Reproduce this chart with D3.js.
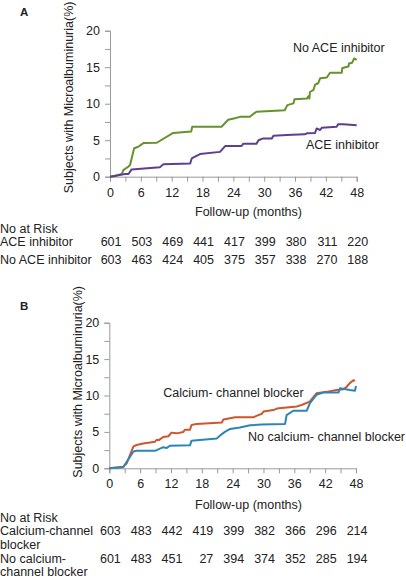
<!DOCTYPE html>
<html><head><meta charset="utf-8">
<script src="https://cdn.jsdelivr.net/npm/d3@7"></script>
<style>
html,body{margin:0;padding:0;background:#fff;}
svg{display:block;font-family:"Liberation Sans",Arial,sans-serif;}
</style></head>
<body>
<svg id="chart" width="406" height="579"></svg>
<script>
// ---- data ----
const monthTicks = [0, 6, 12, 18, 24, 30, 36, 42, 48];
const yTicks = [0, 5, 10, 15, 20];

// Panel A: No ACE inhibitor (green), ACE inhibitor (purple) — [month, %]
const noAce = [[0,0],[1.0,0.1],[2.3,0.37],[2.6,0.9],[3.6,1.4],[3.9,1.6],[4.7,3.9],[5.5,4.1],[6.5,4.6],[9.1,4.65],[12.3,6.0],[15.8,6.2],[16.0,6.85],[21.7,6.85],[23.0,7.8],[24.3,8.0],[25.3,8.2],[27.2,8.2],[27.9,8.6],[28.5,8.9],[34.0,9.1],[34.5,9.8],[35.7,10.05],[35.9,10.6],[38.3,10.7],[38.6,11.0],[38.8,10.7],[38.9,11.6],[39.6,11.9],[39.9,12.6],[40.5,12.8],[40.9,13.5],[42.2,13.6],[42.8,14.25],[45.1,14.25],[45.2,14.9],[46.4,15.1],[46.5,15.5],[47.1,15.6],[47.5,16.2],[48.0,16.0]];
const ace = [[0,0],[2.9,0.37],[3.6,0.37],[4.2,1.0],[9.7,1.3],[10.4,1.7],[15.6,1.8],[15.9,2.5],[17.5,3.1],[21.4,3.4],[22.4,4.2],[25.6,4.2],[25.9,4.5],[28.5,4.5],[28.9,5.0],[29.8,5.25],[31.5,5.25],[31.8,5.6],[34.4,5.7],[37.9,5.8],[38.3,5.95],[39.9,6.0],[40.2,6.6],[40.9,6.4],[41.2,6.7],[44.1,6.85],[44.4,7.2],[45.4,7.2],[48.0,7.05]];

// Panel B: Calcium-channel blocker (red), No calcium-channel blocker (blue)
const ccb = [[0,0],[2.7,0.2],[3.4,0.7],[4.7,3.0],[5.3,3.2],[6.6,3.4],[8.9,3.65],[9.2,3.9],[9.7,3.9],[10.5,4.3],[11.5,4.4],[12.1,4.9],[13.1,4.8],[14.4,5.0],[14.7,5.3],[15.7,5.3],[16.0,5.95],[17.0,6.1],[21.9,6.3],[22.2,6.7],[24.5,7.0],[28.0,7.0],[29.0,7.3],[29.6,7.45],[30.0,7.8],[31.9,8.0],[32.6,8.2],[36.5,8.5],[37.4,8.7],[39.0,9.15],[40.3,10.3],[42.3,10.5],[44.2,10.75],[45.5,10.85],[46.2,11.2],[46.8,11.7],[47.5,12.1],[47.8,12.0]];
const noCcb = [[0,0],[2.7,0.15],[4.7,2.3],[5.3,2.4],[8.9,2.4],[10.5,2.9],[11.2,2.8],[11.8,3.1],[15.7,3.15],[16.0,3.8],[20.9,4.1],[21.9,4.7],[22.5,5.0],[23.5,5.4],[25.4,5.6],[27.4,5.9],[29.6,6.0],[34.2,6.1],[34.5,7.3],[35.8,7.9],[38.4,7.9],[39.0,8.9],[40.3,10.1],[41.6,10.4],[44.6,10.4],[44.9,11.0],[46.8,10.75],[47.8,10.65],[48.0,11.3]];

// Numbers at risk
const riskA1Label = ["ACE inhibitor"];
const riskA1 = [601, 503, 469, 441, 417, 399, 380, 311, 220];
const riskA2Label = ["No ACE inhibitor"];
const riskA2 = [603, 463, 424, 405, 375, 357, 338, 270, 188];
const riskB1Label = ["Calcium-channel", "blocker"];
const riskB1 = [603, 483, 442, 419, 399, 382, 366, 296, 214];
const riskB2Label = ["No calcium-", "channel blocker"];
const riskB2 = [601, 483, 451, 27, 394, 374, 352, 285, 194];

// ---- drawing ----
const svg = d3.select("#chart");
const FS = 12.5, TXT = "#222", AX = "#999";

function panel(o) {
  const g = svg.append("g");
  const x = d3.scaleLinear().domain([0, 48]).range([o.x0, o.x1]);
  const y = d3.scaleLinear().domain([0, 20]).range([o.y0, o.y1]);

  // panel letter
  g.append("text").attr("x", 20).attr("y", o.letterY).attr("font-size", 11.5)
    .attr("font-weight", "bold").attr("fill", TXT).text(o.letter);

  // y axis
  const ya = g.append("g").attr("transform", `translate(${o.x0},0)`)
    .call(d3.axisLeft(y).tickValues(d3.range(0, 20.01, 2.5)).tickSize(5).tickPadding(5)
      .tickFormat(d => yTicks.includes(d) ? d : ""));
  ya.select(".domain").attr("stroke", AX).attr("stroke-width", 1);
  ya.selectAll(".tick line").attr("stroke", AX);
  ya.selectAll("text").attr("font-size", FS).attr("fill", TXT).attr("font-family", "Liberation Sans, Arial, sans-serif");

  // x axis
  const xa = g.append("g").attr("transform", `translate(0,${o.y0})`)
    .call(d3.axisBottom(x).tickValues(d3.range(0, 48.01, 3)).tickSize(5).tickPadding(6)
      .tickFormat(d => monthTicks.includes(d) ? d : ""));
  xa.select(".domain").attr("stroke", AX).attr("stroke-width", 1);
  xa.selectAll(".tick line").attr("stroke", AX);
  xa.selectAll("text").attr("font-size", FS).attr("fill", TXT).attr("font-family", "Liberation Sans, Arial, sans-serif");

  // y label
  g.append("text").attr("transform", `translate(${o.ylabX},${o.ylabY}) rotate(-90)`)
    .attr("font-size", FS).attr("fill", TXT).text("Subjects with Microalbuminuria(%)");

  // x label
  g.append("text").attr("x", 195).attr("y", o.xlabY).attr("font-size", FS)
    .attr("fill", TXT).text("Follow-up (months)");

  // lines
  const line = d3.line().x(d => x(d[0])).y(d => y(d[1]));
  o.series.forEach(s => {
    g.append("path").datum(s.data).attr("d", line).attr("fill", "none")
      .attr("stroke", s.color).attr("stroke-width", 2).attr("stroke-linejoin", "round");
  });
  o.notes.forEach(n => {
    g.append("text").attr("x", n.x).attr("y", n.y).attr("font-size", FS).attr("fill", TXT).text(n.t);
  });

  // risk table
  g.append("text").attr("x", 0).attr("y", o.riskY).attr("font-size", FS).attr("fill", TXT).text("No at Risk");
  o.rows.forEach(r => {
    r.label.forEach((l, i) => {
      g.append("text").attr("x", 0).attr("y", r.y + i * o.lineH).attr("font-size", FS).attr("fill", TXT).text(l);
    });
    g.selectAll(null).data(r.vals).enter().append("text")
      .attr("x", (d, i) => x(monthTicks[i]) + 11.5).attr("y", r.y)
      .attr("text-anchor", "end").attr("font-size", FS).attr("fill", TXT).text(d => d);
  });
}

panel({
  letter: "A", letterY: 15.5,
  x0: 110, x1: 356.7, y0: 176.7, y1: 30.7,
  ylabX: 73.3, ylabY: 193.3, xlabY: 215.7,
  series: [{data: noAce, color: "#66912c"}, {data: ace, color: "#5e3f8f"}],
  notes: [{t: "No ACE inhibitor", x: 293, y: 52.3}, {t: "ACE inhibitor", x: 306, y: 149}],
  riskY: 233, lineH: 14.3,
  rows: [{label: riskA1Label, vals: riskA1, y: 246.3}, {label: riskA2Label, vals: riskA2, y: 263.5}]
});

panel({
  letter: "B", letterY: 310,
  x0: 109.3, x1: 356, y0: 468.3, y1: 322.7,
  ylabX: 81.7, ylabY: 477.7, xlabY: 509,
  series: [{data: ccb, color: "#d0542c"}, {data: noCcb, color: "#2d84b6"}],
  notes: [{t: "Calcium- channel blocker", x: 163.3, y: 397.3}, {t: "No calcium- channel blocker", x: 248, y: 440.7}],
  riskY: 521.7, lineH: 13.6,
  rows: [{label: riskB1Label, vals: riskB1, y: 535}, {label: riskB2Label, vals: riskB2, y: 562.5}]
});
</script>
</body></html>
